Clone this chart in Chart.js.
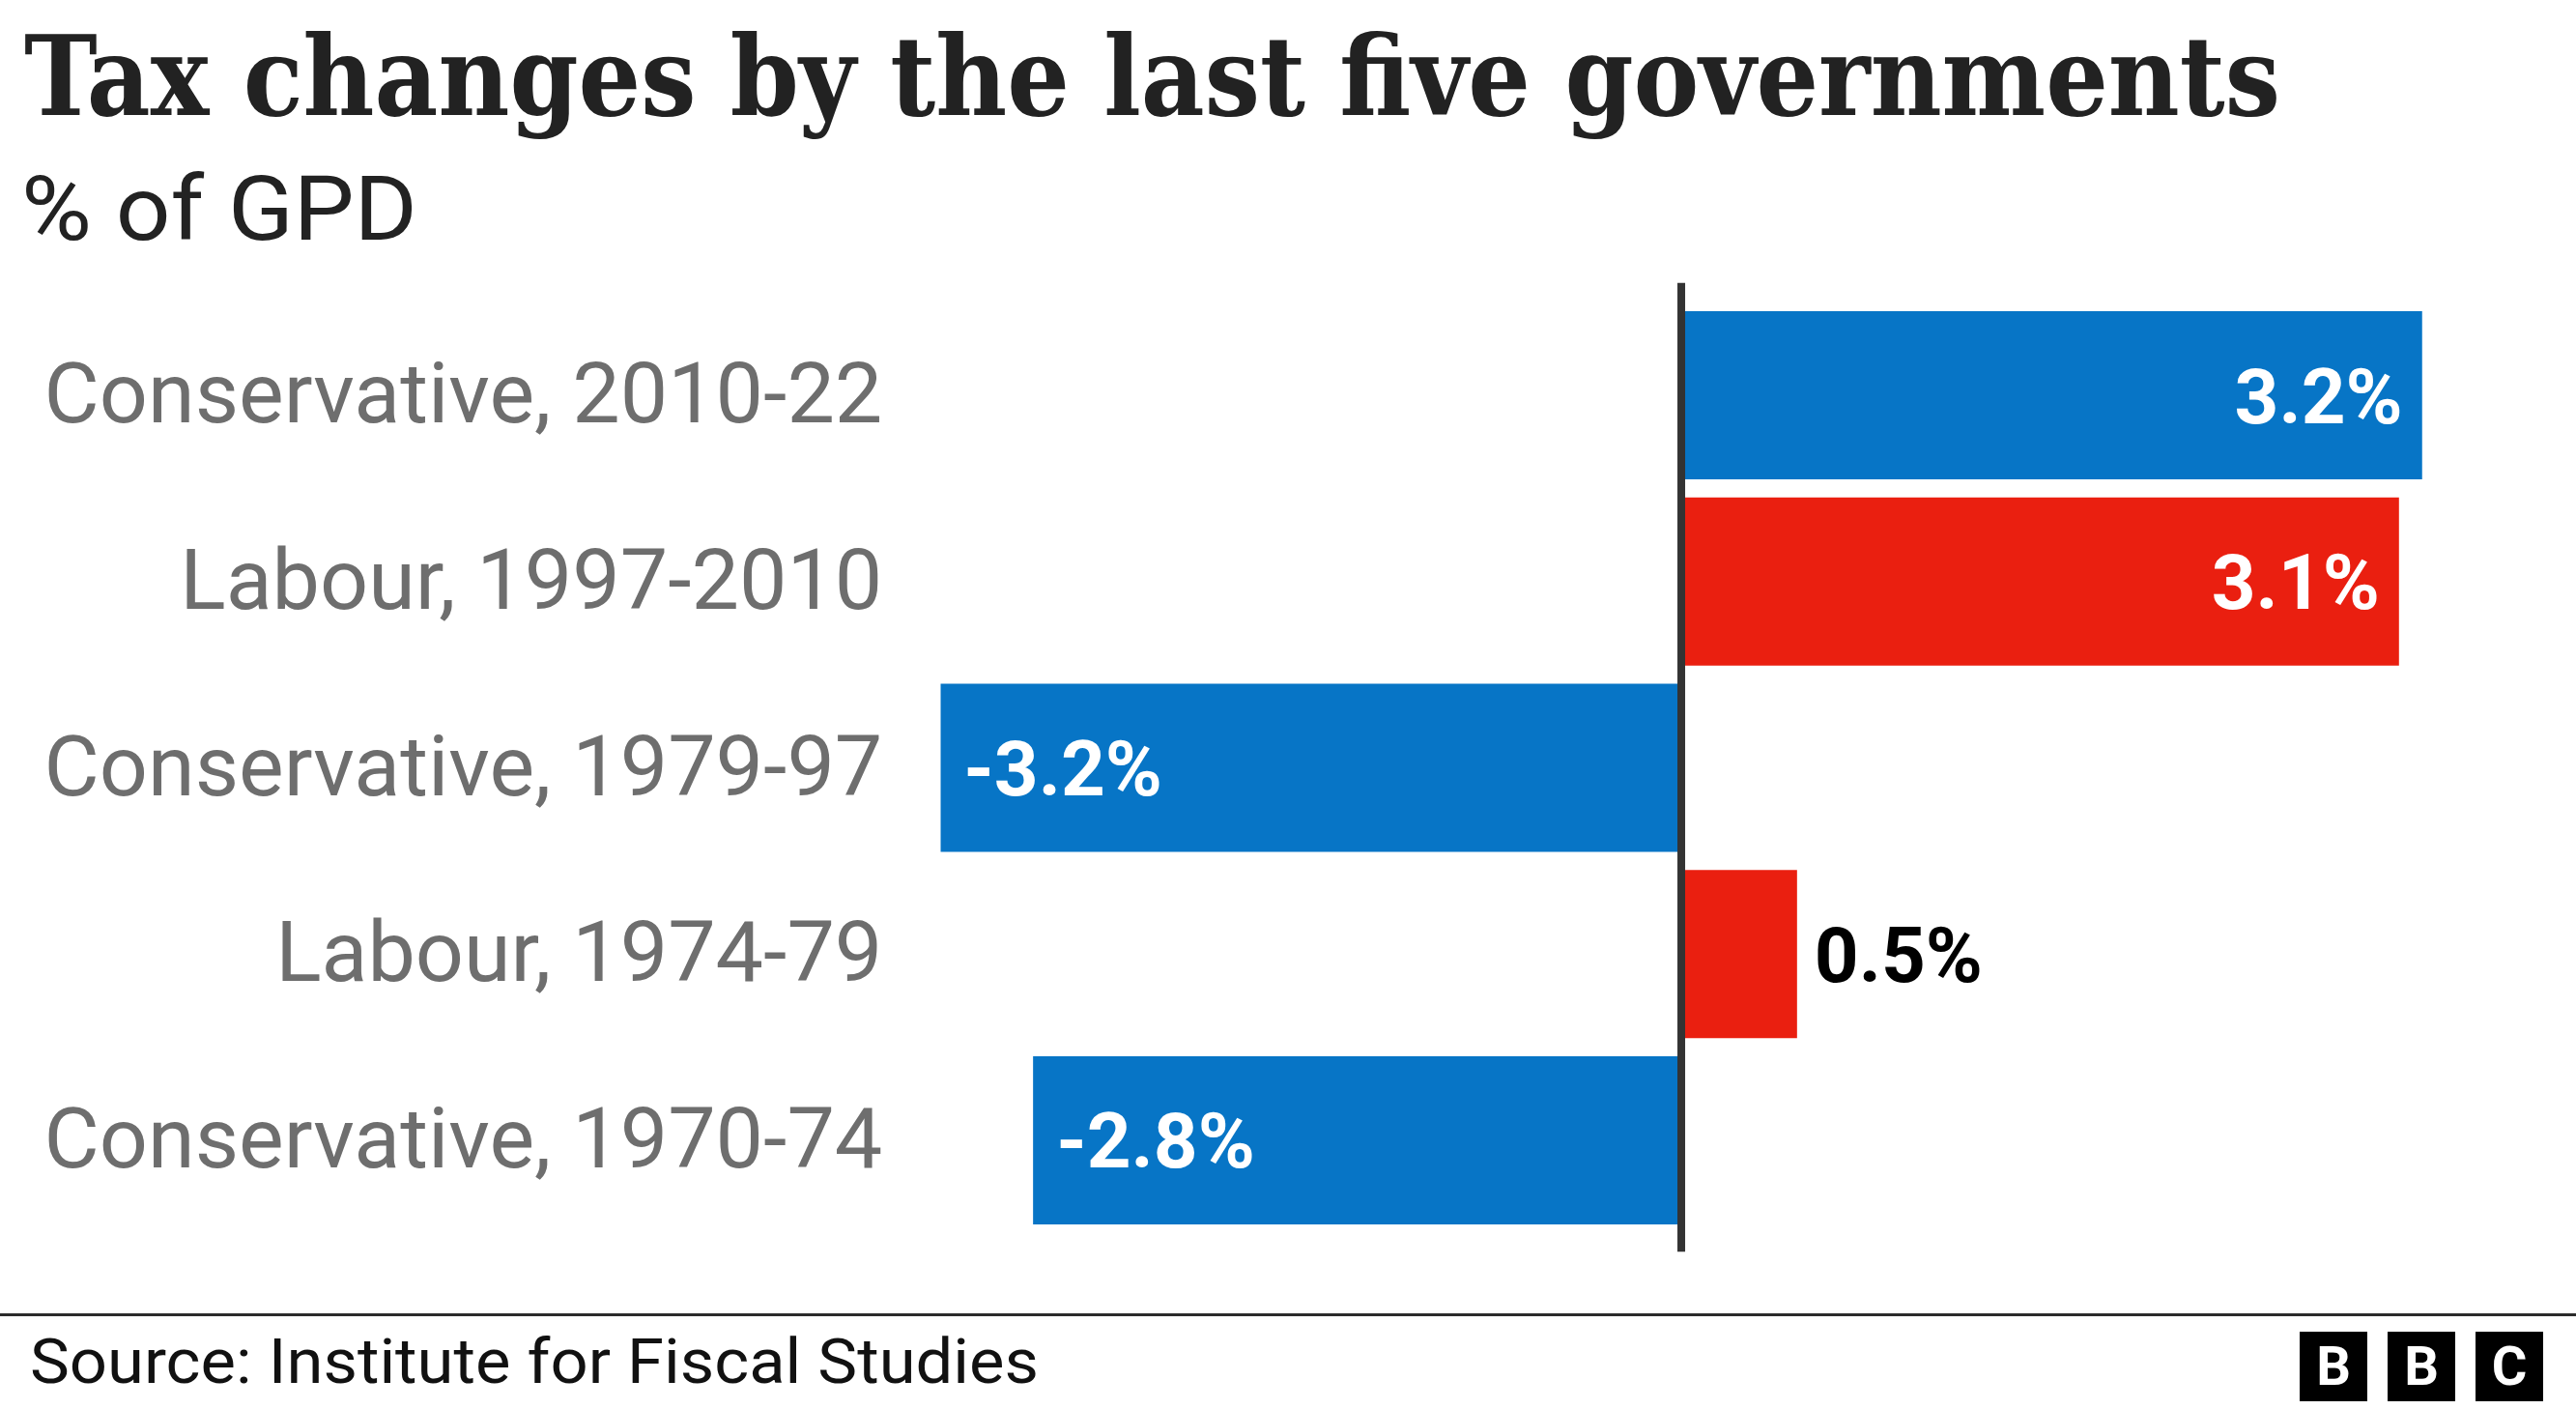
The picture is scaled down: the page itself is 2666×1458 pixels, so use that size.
<!DOCTYPE html>
<html>
<head>
<meta charset="utf-8">
<script src="https://cdn.jsdelivr.net/npm/chart.js@4"></script>
<style>
  html, body { margin: 0; padding: 0; background: #ffffff; }
  body { width: 2666px; height: 1458px; position: relative; overflow: hidden; }
  #chart { position: absolute; left: 0; top: 0; }
  .txt { position: absolute; white-space: nowrap; line-height: 1; transform-origin: 0 0; }
  #title { left: 25px; top: 22px; font-family: "DejaVu Serif Condensed", "DejaVu Serif", serif; font-weight: bold; font-size: 114px; color: #222222; }
  #subtitle { left: 22px; top: 171px; font-family: Roboto, sans-serif; font-size: 92px; color: #222222; }
  #rule { position: absolute; left: 0; top: 1359px; width: 2666px; height: 3px; background: #2b2b2b; }
  #source { left: 31px; top: 1377px; font-family: Roboto, sans-serif; font-size: 65px; color: #111111; }
  .logo { position: absolute; top: 1378px; width: 70px; height: 72px; background: #000; color: #fff;
          font-family: Roboto, sans-serif; font-weight: bold; font-size: 56px; line-height: 72px; text-align: center; }
</style>
</head>
<body>
<canvas id="chart" width="2666" height="1458"></canvas>
<div id="title" class="txt">Tax changes by the last five governments</div>
<div id="subtitle" class="txt">% of GPD</div>
<div id="rule"></div>
<div id="source" class="txt">Source: Institute for Fiscal Studies</div>
<div class="logo" style="left:2380px">B</div>
<div class="logo" style="left:2471px">B</div>
<div class="logo" style="left:2562px">C</div>
<script>
// ---- data ----
const categories = ["Conservative, 2010-22", "Labour, 1997-2010", "Conservative, 1979-97", "Labour, 1974-79", "Conservative, 1970-74"];
const parties = ["Conservative", "Labour", "Conservative", "Labour", "Conservative"];
const values = [3.2, 3.1, -3.2, 0.5, -2.8];
const valueLabels = ["3.2%", "3.1%", "-3.2%", "0.5%", "-2.8%"];

// ---- styles ----
const partyColors = { Conservative: "#0775C6", Labour: "#EA1F10" };
const barColors = parties.map(p => partyColors[p]);

// fit text widths
(function () {
  const fit = (id, target) => {
    const el = document.getElementById(id);
    const w = el.getBoundingClientRect().width;
    el.style.transform = "scaleX(" + (target / w) + ")";
  };
  fit("title", 2335);
  fit("source", 1044);
  fit("subtitle", 410);
})();

const zeroLine = {
  id: "zeroLine",
  afterDatasetsDraw(chart) {
    const ctx = chart.ctx, x = chart.scales.x.getPixelForValue(0), a = chart.chartArea;
    ctx.save();
    ctx.strokeStyle = "#333333";
    ctx.lineWidth = 8;
    ctx.beginPath();
    ctx.moveTo(x, a.top - 20);
    ctx.lineTo(x, a.bottom + 19);
    ctx.stroke();
    ctx.restore();
  }
};

const valueLabelPlugin = {
  id: "valueLabels",
  afterDraw(chart) {
    const ctx = chart.ctx;
    const meta = chart.getDatasetMeta(0);
    const fs = 80;
    ctx.save();
    ctx.font = "bold " + fs + "px Roboto";
    ctx.textBaseline = "alphabetic";
    meta.data.forEach((bar, i) => {
      const v = values[i];
      const txt = valueLabels[i];
      const tw = ctx.measureText(txt).width;
      const len = Math.abs(bar.x - bar.base);
      const y = bar.y + fs * 0.711 / 2;
      if (len > tw + 50) {
        ctx.fillStyle = "#ffffff";
        if (v >= 0) { ctx.textAlign = "right"; ctx.fillText(txt, bar.x - 20, y); }
        else { ctx.textAlign = "left"; ctx.fillText(txt, bar.x + 24, y); }
      } else {
        ctx.fillStyle = "#000000";
        if (v >= 0) { ctx.textAlign = "left"; ctx.fillText(txt, bar.x + 18, y); }
        else { ctx.textAlign = "right"; ctx.fillText(txt, bar.x - 18, y); }
      }
    });
    ctx.restore();
  }
};

new Chart(document.getElementById("chart"), {
  type: "bar",
  data: {
    labels: categories,
    datasets: [{
      data: values,
      backgroundColor: barColors,
      borderWidth: 0,
      barPercentage: 0.903,
      categoryPercentage: 1.0
    }]
  },
  options: {
    indexAxis: "y",
    responsive: false,
    animation: false,
    events: [],
    layout: { padding: { left: 0, top: 312.7, bottom: 181.7, right: 63.4 } },
    plugins: { legend: { display: false }, tooltip: { enabled: false }, title: { display: false } },
    scales: {
      x: { display: false, min: -3.2, max: 3.6 },
      y: {
        afterFit(scale) { scale.width = 973.3; },
        grid: { display: false, drawTicks: false },
        border: { display: false },
        ticks: {
          padding: 60,
          labelOffset: 6,
          color: "#6e6e6e",
          font: { family: "Roboto", size: 88 }
        }
      }
    }
  },
  plugins: [zeroLine, valueLabelPlugin]
});
</script>
</body>
</html>
